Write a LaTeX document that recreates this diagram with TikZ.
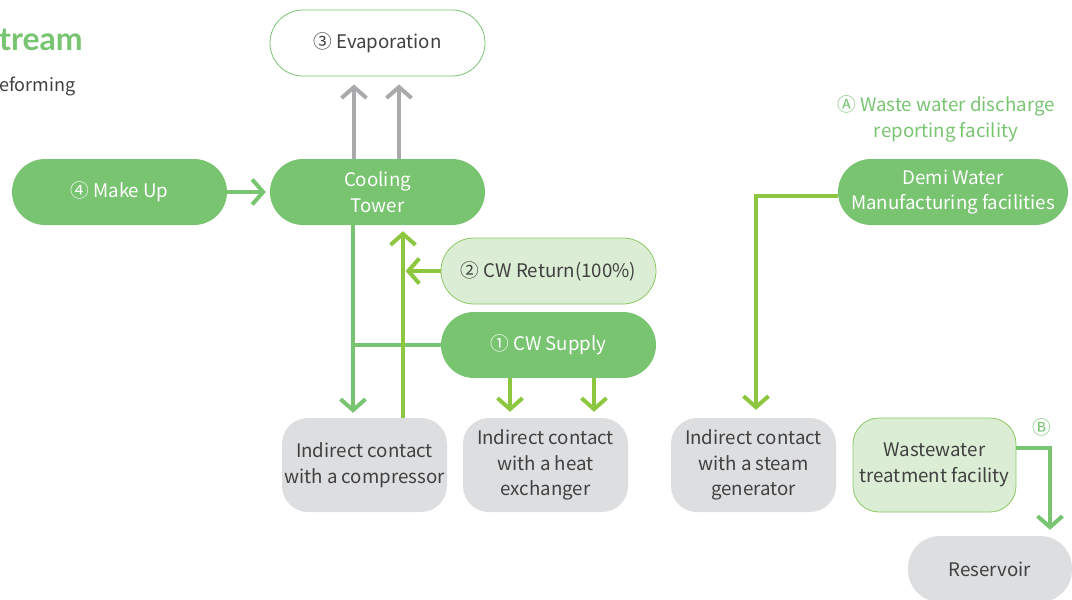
\documentclass[tikz,border=0pt]{standalone}
\usepackage{fontspec}
\setmainfont{Noto Sans CJK KR}
\newfontfamily\titlefont{Lato}
\usetikzlibrary{arrows.meta}
\usetikzlibrary{positioning}
\usepackage{xcolor}
\definecolor{leaf}{RGB}{121,196,113}
\definecolor{lime}{RGB}{141,198,63}
\definecolor{mint}{RGB}{220,237,213}
\definecolor{mintline}{RGB}{140,200,100}
\definecolor{ash}{RGB}{170,170,172}
\definecolor{fog}{RGB}{221,222,224}
\definecolor{ink}{RGB}{64,64,64}

\begin{document}
\begin{tikzpicture}[x=1pt,y=-1pt]
      \tikzstyle{every node}=[font=\fontsize{18.7}{25.5}\selectfont, align=center, inner sep=0pt, text=ink]
      \tikzstyle{pill}=[rounded corners=33pt, minimum height=66pt, minimum width=215pt]
      \tikzstyle{greenpill}=[pill, fill=leaf, text=white]
      \tikzstyle{whitepill}=[pill, draw=leaf, line width=0.8pt, fill=white]
      \tikzstyle{mintpill}=[pill, draw=mintline, line width=0.8pt, fill=mint]
      \tikzstyle{greybox}=[rounded corners=26pt, minimum height=94pt, minimum width=165pt, fill=fog]
      \tikzstyle{tip}=[-{Straight Barb[length=11pt,width=25pt]}]
      \tikzstyle{greyflow}=[draw=ash, line width=4pt, tip]
      \tikzstyle{leafflow}=[draw=leaf, line width=4pt]
      \tikzstyle{limeflow}=[draw=lime, line width=4pt]

      \useasboundingbox (0,0) rectangle (1072,600);

      % heading (cut at the left edge)
      \node[anchor=base west, text=leaf, font=\titlefont\bfseries\fontsize{32}{32}\selectfont] (title) at (-1,50) {tream};
      \node[anchor=base west, font=\fontsize{18}{20}\selectfont] (sub) at (-1,91) {eforming};

      % boxes
      \node[whitepill] (evap) at (377.5,43) {③ Evaporation};
      \node[greenpill] (makeup) at (119.5,192) {④ Make Up};
      \node[greenpill] (tower) at (377.5,192) {Cooling\\Tower};
      \node[mintpill] (ret) at (548.5,271) {② CW Return(100\%)};
      \node[greenpill] (sup) at (548.5,345) {① CW Supply};
      \node[greybox] (comp) at (364.5,465) {Indirect contact\\with a compressor};
      \node[greybox] (hx) at (545.5,465) {Indirect contact\\with a heat\\exchanger};
      \node[greybox] (steam) at (753.5,465) {Indirect contact\\with a steam\\generator};
      \node[greenpill, minimum width=230pt] (demi) at (953,192) {Demi Water\\Manufacturing facilities};
      \node[text=leaf] (lblA) at (946,119) {Ⓐ Waste water discharge\\reporting facility};
      \node[greybox, draw=mintline, line width=0.8pt, fill=mint, minimum width=163pt] (wwt) at (934.5,465) {Wastewater\\treatment facility};
      \node[text=leaf] (lblB) at (1042,427) {Ⓑ};
      \node[greybox, rounded corners=32pt, minimum height=66pt, minimum width=164pt] (res) at (990,569) {Reservoir};

      % connectors
      \coordinate (down) at ([xshift=-24.5pt]tower.south);
      \draw[greyflow, shorten >=8pt] ([xshift=-23.5pt]tower.north) -- ([xshift=-23.5pt]tower.north |- evap.south);
      \draw[greyflow, shorten >=8pt] ([xshift=21.5pt]tower.north) -- ([xshift=21.5pt]tower.north |- evap.south);
      \draw[leafflow, tip, shorten >=4pt] (makeup.east) -- (tower.west);
      \draw[leafflow, tip, shorten >=5pt] (down) -- ([xshift=-11.5pt]comp.north);
      \draw[leafflow] (sup.west) -- (sup.west -| down);
      \draw[limeflow, tip, shorten >=6pt] ([xshift=38.5pt]comp.north) -- ([xshift=25.5pt]tower.south);
      \draw[limeflow, tip] (ret.west) -- ++(-35,0);
      \draw[limeflow, tip, shorten >=6pt] ([xshift=-38.5pt]sup.south) -- ([xshift=-38.5pt]sup.south |- hx.north);
      \draw[limeflow, tip, shorten >=6pt] ([xshift=45.5pt]sup.south) -- ([xshift=45.5pt]sup.south |- hx.north);
      \draw[limeflow, tip, shorten >=8pt] ([yshift=-4pt]demi.west) -| ([xshift=2.5pt]steam.north);
      \draw[leafflow, tip, shorten >=6pt] ([yshift=17pt]wwt.east) -| ([xshift=60pt]res.north);
    \end{tikzpicture}
\end{document}
